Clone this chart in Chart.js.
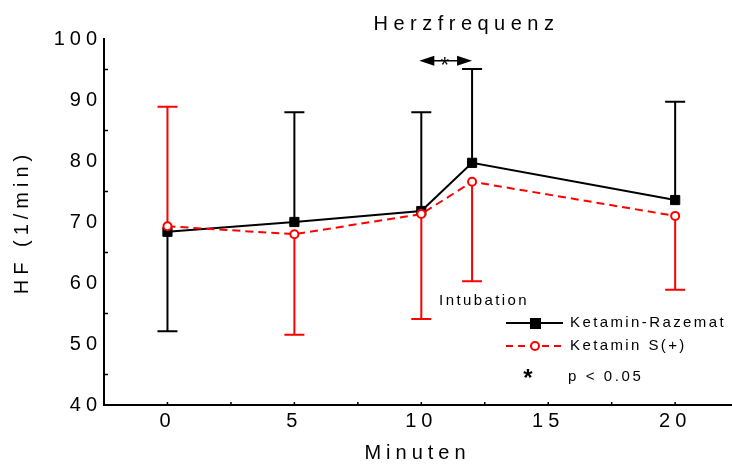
<!DOCTYPE html>
<html>
<head>
<meta charset="utf-8">
<script src="https://cdn.jsdelivr.net/npm/chart.js@4.4.0/dist/chart.umd.min.js"></script>
<style>
  html, body { margin: 0; padding: 0; background: #fff; overflow: hidden; }
</style>
</head>
<body>
<canvas id="hfChart" width="732" height="464"></canvas>
<script>
// time points (minutes)
var minutes = [0, 5, 10, 12, 20];

// Ketamin-Razemat: means and end of error bar
var razemat = [68.4, 70.0, 71.8, 79.7, 73.6];
var razematBar = [52.1, 88.0, 88.0, 95.1, 89.7];

// Ketamin S(+): means and end of error bar
var sPlus = [69.3, 68.0, 71.3, 76.6, 71.0];
var sPlusBar = [88.9, 51.5, 54.1, 60.3, 58.9];

// tick labels
var xTickValues = [0, 5, 10, 15, 20];
var yTickValues = [40, 50, 60, 70, 80, 90, 100];
var xMinorTicks = [0, 2.5, 5, 7.5, 10, 12.5, 15, 17.5, 20];
var yMinorTicks = [45, 55, 65, 75, 85, 95];

var FONT = "'Liberation Sans', Arial, sans-serif";
var RED = "#ff0000";

function txt(ctx, s, x, y, size, spacing, align, weight) {
	ctx.save();
	ctx.font = (weight || "normal") + " " + size + "px " + FONT;
	ctx.letterSpacing = spacing + "px";
	ctx.fillStyle = "#000";
	ctx.textAlign = align || "left";
	ctx.textBaseline = "middle";
	ctx.fillText(s, x, y);
	ctx.restore();
}

var decor = {
	id: "decor",
	beforeDraw: function(chart) {
		chart.ctx.letterSpacing = "5px";
	},
	beforeDatasetsDraw: function(chart) {
		var ctx = chart.ctx, xs = chart.scales.x, ys = chart.scales.y;
		function bars(means, ends, color) {
			ctx.save();
			ctx.strokeStyle = color;
			ctx.lineWidth = 2;
			for (var i = 0; i < minutes.length; i++) {
				var px = xs.getPixelForValue(minutes[i]);
				var y0 = ys.getPixelForValue(means[i]);
				var y1 = ys.getPixelForValue(ends[i]);
				ctx.beginPath();
				ctx.moveTo(px, y0);
				ctx.lineTo(px, y1);
				ctx.moveTo(px - 10, y1);
				ctx.lineTo(px + 10, y1);
				ctx.stroke();
			}
			ctx.restore();
		}
		bars(razemat, razematBar, "#000");
		bars(sPlus, sPlusBar, RED);
	},
	afterDraw: function(chart) {
		var ctx = chart.ctx, xs = chart.scales.x, ys = chart.scales.y;
		var area = chart.chartArea;

		// inward minor ticks
		ctx.save();
		ctx.strokeStyle = "#000";
		ctx.lineWidth = 1.5;
		ctx.beginPath();
		xMinorTicks.forEach(function(v) {
			var px = xs.getPixelForValue(v);
			ctx.moveTo(px, area.bottom);
			ctx.lineTo(px, area.bottom - 3);
		});
		yMinorTicks.forEach(function(v) {
			var py = ys.getPixelForValue(v);
			ctx.moveTo(area.left, py);
			ctx.lineTo(area.left + 4, py);
		});
		ctx.stroke();
		ctx.restore();

		// title
		txt(ctx, "Herzfrequenz", xs.getPixelForValue(11.7) + 2, 24, 20, 5.5, "center");

		// significance arrow between 10 and 12 min
		var ax0 = xs.getPixelForValue(10) - 2, ax1 = xs.getPixelForValue(12);
		var ay = ys.getPixelForValue(96.6) + 1;
		ctx.save();
		ctx.strokeStyle = "#000";
		ctx.fillStyle = "#000";
		ctx.lineWidth = 1.5;
		ctx.beginPath();
		ctx.moveTo(ax0 + 10, ay);
		ctx.lineTo(ax1 - 10, ay);
		ctx.stroke();
		ctx.beginPath();
		ctx.moveTo(ax0, ay);
		ctx.lineTo(ax0 + 15, ay - 5);
		ctx.lineTo(ax0 + 15, ay + 5);
		ctx.closePath();
		ctx.moveTo(ax1, ay);
		ctx.lineTo(ax1 - 15, ay - 5);
		ctx.lineTo(ax1 - 15, ay + 5);
		ctx.closePath();
		ctx.fill();
		ctx.restore();
		txt(ctx, "*", (ax0 + ax1) / 2 - 1, ay + 5, 22, 0, "center");

		// annotation
		txt(ctx, "Intubation", xs.getPixelForValue(10.7), ys.getPixelForValue(57.0), 15, 2.4, "left");

		// legend
		var lx = area.right - 225, ly = area.bottom - 82;
		ctx.save();
		ctx.lineWidth = 2;
		ctx.strokeStyle = "#000";
		ctx.beginPath();
		ctx.moveTo(lx, ly);
		ctx.lineTo(lx + 57, ly);
		ctx.stroke();
		ctx.fillStyle = "#000";
		ctx.fillRect(lx + 24, ly - 5, 11, 11);
		ctx.strokeStyle = RED;
		ctx.setLineDash([7, 5]);
		ctx.beginPath();
		ctx.moveTo(lx, ly + 23);
		ctx.lineTo(lx + 57, ly + 23);
		ctx.stroke();
		ctx.setLineDash([]);
		ctx.fillStyle = "#fff";
		ctx.beginPath();
		ctx.arc(lx + 29, ly + 23, 4, 0, Math.PI * 2);
		ctx.fill();
		ctx.stroke();
		ctx.restore();
		txt(ctx, "Ketamin-Razemat", lx + 64, ly, 15, 2.4, "left");
		txt(ctx, "Ketamin S(+)", lx + 64, ly + 23, 15, 2.4, "left");
		txt(ctx, "*", lx + 22, ly + 56, 24, 0, "center", "bold");
		txt(ctx, "p < 0.05", lx + 62, ly + 54, 15, 2.6, "left");
	}
};

var ctx = document.getElementById("hfChart");

var data = {
	datasets: [
		{
			label: "Ketamin-Razemat",
			data: minutes.map(function(m, i) { return { x: m, y: razemat[i] }; }),
			borderColor: "#000",
			backgroundColor: "#000",
			borderWidth: 2,
			pointStyle: "rect",
			pointRadius: 6.5,
			pointBorderWidth: 1,
			pointBackgroundColor: "#000",
			order: 2
		},
		{
			label: "Ketamin S(+)",
			data: minutes.map(function(m, i) { return { x: m, y: sPlus[i] }; }),
			borderColor: RED,
			backgroundColor: "#fff",
			borderWidth: 2,
			borderDash: [8, 5],
			pointStyle: "circle",
			pointRadius: 4,
			pointBorderWidth: 2,
			pointBackgroundColor: "#fff",
			order: 1
		}
	]
};

var options = {
	responsive: false,
	animation: false,
	layout: { autoPadding: false, padding: { top: 39, right: 1, left: 0, bottom: 0 } },
	plugins: {
		legend: { display: false },
		tooltip: { enabled: false }
	},
	scales: {
		x: {
			type: "linear",
			min: -2.5,
			max: 22.2,
			afterBuildTicks: function(scale) {
				scale.ticks = xTickValues.map(function(v) { return { value: v }; });
			},
			afterFit: function(scale) { scale.height = 59; },
			grid: { display: false, drawTicks: false },
			border: { display: true, color: "#000", width: 2 },
			ticks: {
				color: "#000",
				padding: 4,
				maxRotation: 0,
				font: { family: FONT, size: 20 }
			},
			title: {
				display: true,
				text: "Minuten",
				color: "#000",
				padding: { top: 0, bottom: -1 },
				font: { family: FONT, size: 20 }
			}
		},
		y: {
			type: "linear",
			min: 40,
			max: 100,
			afterBuildTicks: function(scale) {
				scale.ticks = yTickValues.map(function(v) { return { value: v }; });
			},
			afterFit: function(scale) { scale.width = 104; },
			grid: { display: false, drawTicks: false },
			border: { display: true, color: "#000", width: 2 },
			ticks: {
				color: "#000",
				padding: 2,
				font: { family: FONT, size: 20 }
			},
			title: {
				display: true,
				text: "HF (1/min)",
				color: "#000",
				padding: { top: 10, bottom: 0 },
				font: { family: FONT, size: 20 }
			}
		}
	}
};

var chart = new Chart(ctx, {
	type: "line",
	data: data,
	options: options,
	plugins: [decor]
});
</script>
</body>
</html>
